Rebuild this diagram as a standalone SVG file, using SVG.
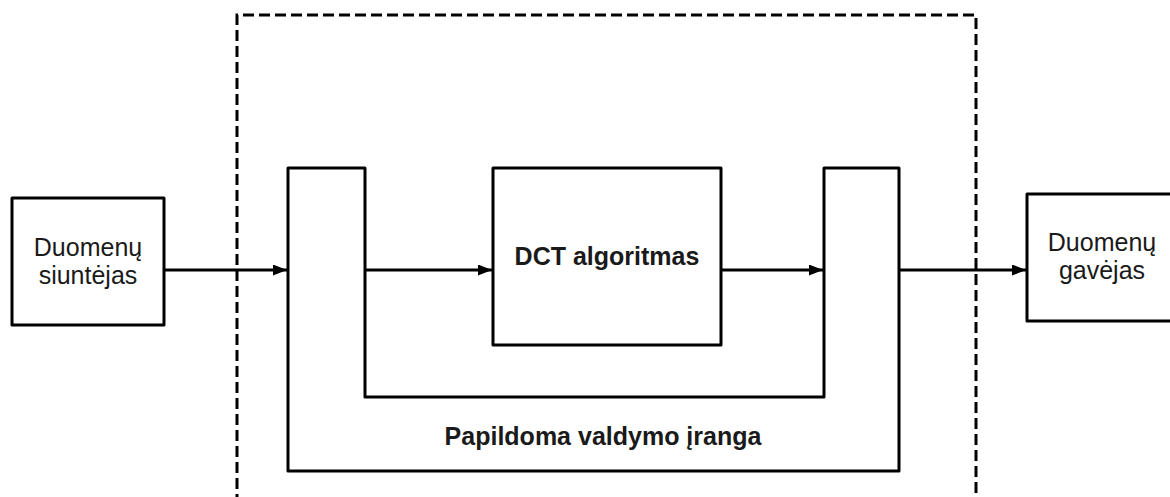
<svg xmlns="http://www.w3.org/2000/svg" width="1170" height="497" viewBox="0 0 1170 497">
  <style>
    .box { fill: #ffffff; stroke: #000000; stroke-width: 3; stroke-linejoin: round; }
    .frame { fill: none; stroke: #000000; stroke-width: 3; stroke-dasharray: 11 5; }
    .link { fill: none; stroke: #000000; stroke-width: 3; }
    .label { font-family: "Liberation Sans", Arial, sans-serif; font-size: 25px; fill: #1a1a1a; text-anchor: middle; }
    .bold { font-weight: bold; }
  </style>
  <defs>
    <marker id="arrow" markerWidth="14" markerHeight="11" refX="14" refY="5.5" orient="auto" markerUnits="userSpaceOnUse">
      <path d="M0,0 L14,5.5 L0,11 Z" fill="#000000"/>
    </marker>
  </defs>
  <rect width="1170" height="497" fill="#ffffff"/>

  <!-- dashed system boundary -->
  <g id="boundary">
    <path class="frame" d="M237,505 L237,15 L976,15 L976,505"/>
  </g>

  <g id="sender">
    <rect class="box" x="12" y="198" width="152" height="127"/>
    <text class="label" x="88" y="256">Duomenų</text>
    <text class="label" x="88" y="284">siuntėjas</text>
  </g>

  <g id="control">
    <path class="box" d="M288,168 L365,168 L365,397 L824,397 L824,168 L899,168 L899,471 L288,471 Z"/>
    <text class="label bold" x="603" y="445">Papildoma valdymo įranga</text>
  </g>

  <g id="dct">
    <rect class="box" x="493" y="168" width="228" height="177"/>
    <text class="label bold" x="607" y="265">DCT algoritmas</text>
  </g>

  <g id="receiver">
    <rect class="box" x="1027" y="194" width="160" height="127"/>
    <text class="label" x="1102" y="251">Duomenų</text>
    <text class="label" x="1102" y="279">gavėjas</text>
  </g>

  <g id="connectors">
    <line class="link" x1="164" y1="270" x2="287" y2="270" marker-end="url(#arrow)"/>
    <line class="link" x1="365" y1="270" x2="492" y2="270" marker-end="url(#arrow)"/>
    <line class="link" x1="721" y1="270" x2="823" y2="270" marker-end="url(#arrow)"/>
    <line class="link" x1="899" y1="270" x2="1026" y2="270" marker-end="url(#arrow)"/>
  </g>
</svg>
